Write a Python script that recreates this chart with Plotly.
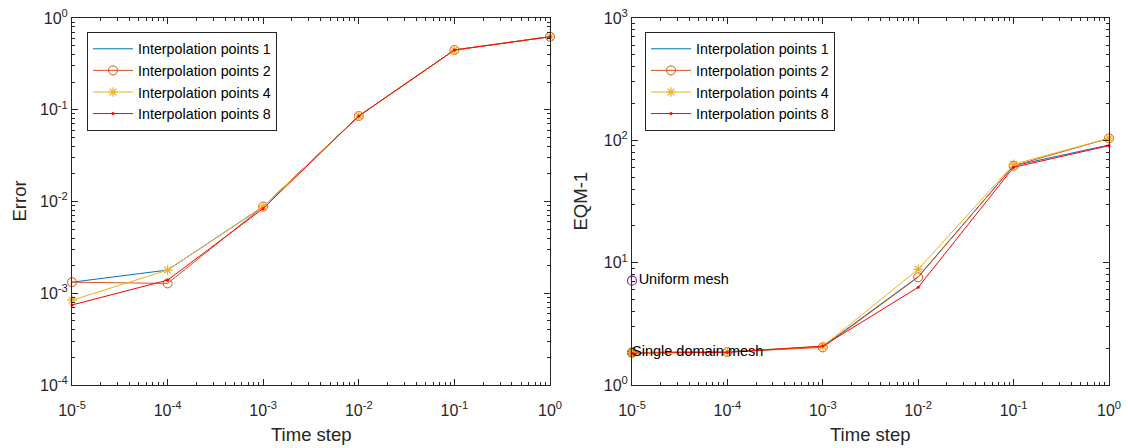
import plotly.graph_objects as go

# ---------------- data ----------------
time_step = [1e-5, 1e-4, 1e-3, 1e-2, 1e-1, 1.0]

err_ip1 = [1.32e-3, 1.79e-3, 8.8e-3, 0.0855, 0.448, 0.625]
err_ip2 = [1.32e-3, 1.28e-3, 8.8e-3, 0.0855, 0.448, 0.625]
err_ip4 = [8.4e-4, 1.79e-3, 8.8e-3, 0.0855, 0.448, 0.625]
err_ip8 = [7.45e-4, 1.39e-3, 8.4e-3, 0.0855, 0.448, 0.625]

eqm_ip1 = [1.84, 1.87, 2.06, 7.68, 62.0, 91.6]
eqm_ip2 = [1.84, 1.86, 2.03, 7.60, 62.0, 103.8]
eqm_ip4 = [1.84, 1.87, 2.07, 8.83, 63.7, 104.0]
eqm_ip8 = [1.82, 1.85, 2.08, 6.29, 60.2, 90.4]

uniform_mesh_x = [1e-5]
uniform_mesh_y = [7.13]
single_domain_x = [1e-5]
single_domain_y = [1.84]

series_names = ["Interpolation points 1", "Interpolation points 2",
                "Interpolation points 4", "Interpolation points 8"]

x_tickvals = [1e-5, 1e-4, 1e-3, 1e-2, 1e-1, 1]
x_ticktext = ["10<sup>-5</sup>", "10<sup>-4</sup>", "10<sup>-3</sup>",
              "10<sup>-2</sup>", "10<sup>-1</sup>", "10<sup>0</sup>"]
y1_tickvals = [1e-4, 1e-3, 1e-2, 1e-1, 1]
y1_ticktext = ["10<sup>-4</sup>", "10<sup>-3</sup>", "10<sup>-2</sup>",
               "10<sup>-1</sup>", "10<sup>0</sup>"]
y2_tickvals = [1, 10, 100, 1000]
y2_ticktext = ["10<sup>0</sup>", "10<sup>1</sup>", "10<sup>2</sup>", "10<sup>3</sup>"]

# ---------------- styles ----------------
BLUE = "#0072BD"
ORANGE = "#D95319"
YELLOW = "#EDB120"
RED = "#FF0000"
PURPLE = "#7E2F8E"
GREEN = "#77AC30"
AX = "#262626"
FONT = "Liberation Sans, Arial, Helvetica, sans-serif"

W, H = 1128, 448
L1, R1 = 72, 550
L2, R2 = 632, 1109
TOP, BOT = 18, 385
PH = BOT - TOP

styles = [
    dict(color=BLUE, marker=dict(symbol="circle", size=1, opacity=0), mode="lines"),
    dict(color=ORANGE, marker=dict(symbol="circle-open", size=9, color=ORANGE, line=dict(width=1)), mode="lines+markers"),
    dict(color=YELLOW, marker=dict(symbol="asterisk-open", size=8, color=YELLOW, line=dict(width=1.2)), mode="lines+markers"),
    dict(color=RED, marker=dict(symbol="circle", size=3, color=RED), mode="lines+markers"),
]


def minor_vals(lo, hi):
    vals = []
    for e in range(lo, hi):
        for m in range(2, 10):
            vals.append(m * 10 ** e)
    return vals


fig = go.Figure()

left_data = [err_ip1, err_ip2, err_ip4, err_ip8]
right_data = [eqm_ip1, eqm_ip2, eqm_ip4, eqm_ip8]

# markers of the two reference meshes (drawn first, under the series)
fig.add_trace(go.Scatter(
    x=uniform_mesh_x, y=uniform_mesh_y, mode="markers+text",
    marker=dict(symbol="circle-open", size=9, color=PURPLE, line=dict(width=1.2)),
    text=["Uniform mesh"], textposition="middle right",
    textfont=dict(family=FONT, size=14.5, color="#000000"),
    xaxis="x2", yaxis="y2", showlegend=False, cliponaxis=False,
))
fig.add_trace(go.Scatter(
    x=single_domain_x, y=single_domain_y, mode="markers",
    marker=dict(symbol="circle", size=9, color=GREEN, line=dict(width=1.2, color=GREEN)),
    xaxis="x2", yaxis="y2", showlegend=False, cliponaxis=False,
))

for name, ys, st in zip(series_names, left_data, styles):
    fig.add_trace(go.Scatter(
        x=time_step, y=ys, name=name, mode=st["mode"],
        line=dict(color=st["color"], width=1),
        marker=st["marker"], xaxis="x", yaxis="y", legend="legend",
        cliponaxis=False,
    ))

for name, ys, st in zip(series_names, right_data, styles):
    fig.add_trace(go.Scatter(
        x=time_step, y=ys, name=name, mode=st["mode"],
        line=dict(color=st["color"], width=1),
        marker=st["marker"], xaxis="x2", yaxis="y2", legend="legend2",
        cliponaxis=False,
    ))

# label of the single-domain mesh, drawn above the lines
fig.add_trace(go.Scatter(
    x=single_domain_x, y=single_domain_y, mode="text",
    text=["Single domain mesh"], textposition="middle right",
    textfont=dict(family=FONT, size=14.5, color="#000000"),
    xaxis="x2", yaxis="y2", showlegend=False, cliponaxis=False,
))

common_axis = dict(
    type="log", showgrid=False, zeroline=False, showline=True,
    linecolor=AX, linewidth=1, mirror="allticks", ticks="inside",
    ticklen=6, tickcolor=AX, tickwidth=1, automargin=False,
    tickfont=dict(family=FONT, size=16, color=AX),
    tickmode="array",
)

xaxis_common = dict(common_axis, tickvals=x_tickvals, ticktext=x_ticktext,
                    range=[-5, 0], ticklabelstandoff=11,
                    minor=dict(tickmode="array", tickvals=minor_vals(-5, 0),
                               ticks="inside", ticklen=3, tickcolor=AX, showgrid=False))

TITLE_FONT = dict(family=FONT, size=18.5, color=AX)

annotations = [
    dict(text="Time step", x=(L1 + R1) / 2 / W, y=(BOT - 434) / PH, xref="paper", yref="paper",
         xanchor="center", yanchor="middle", showarrow=False, font=TITLE_FONT),
    dict(text="Time step", x=(L2 + R2) / 2 / W, y=(BOT - 434) / PH, xref="paper", yref="paper",
         xanchor="center", yanchor="middle", showarrow=False, font=TITLE_FONT),
    dict(text="Error", x=19 / W, y=0.5, xref="paper", yref="paper", textangle=-90,
         xanchor="center", yanchor="middle", showarrow=False, font=TITLE_FONT),
    dict(text="EQM-1", x=580 / W, y=0.5, xref="paper", yref="paper", textangle=-90,
         xanchor="center", yanchor="middle", showarrow=False, font=TITLE_FONT),
]

legend_common = dict(xanchor="left", yanchor="top", xref="paper", yref="paper",
                     bgcolor="white", bordercolor="#262626", borderwidth=1,
                     font=dict(family=FONT, size=14.3, color="#000000"),
                     tracegroupgap=0, itemwidth=40,
                     entrywidth=163, entrywidthmode="pixels")

fig.update_layout(
    width=W, height=H,
    paper_bgcolor="white", plot_bgcolor="white",
    margin=dict(l=0, r=0, t=TOP, b=H - BOT, autoexpand=False),
    font=dict(family=FONT, color=AX),
    xaxis=dict(xaxis_common, domain=[L1 / W, R1 / W], anchor="y"),
    yaxis=dict(common_axis, tickvals=y1_tickvals, ticktext=y1_ticktext,
               range=[-4, 0], domain=[0, 1], anchor="x",
               minor=dict(tickmode="array", tickvals=minor_vals(-4, 0),
                          ticks="inside", ticklen=3, tickcolor=AX, showgrid=False)),
    xaxis2=dict(xaxis_common, domain=[L2 / W, R2 / W], anchor="y2"),
    yaxis2=dict(common_axis, tickvals=y2_tickvals, ticktext=y2_ticktext,
                range=[0, 3], domain=[0, 1], anchor="x2",
                minor=dict(tickmode="array", tickvals=minor_vals(0, 3),
                           ticks="inside", ticklen=3, tickcolor=AX, showgrid=False)),
    legend=dict(legend_common, x=87 / W, y=(BOT - 32) / PH),
    legend2=dict(legend_common, x=645 / W, y=(BOT - 32) / PH),
    annotations=annotations,
    showlegend=True,
)

fig.write_html("out.html")
